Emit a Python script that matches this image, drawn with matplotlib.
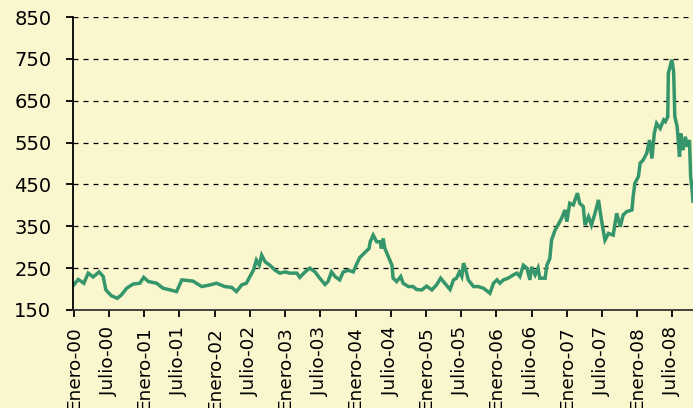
import matplotlib
matplotlib.use("Agg")
import matplotlib.pyplot as plt

# Months since January 2000
months = [0, 0.74, 1.7, 2.45, 3.3, 4.3, 5.0, 5.45, 6.4, 7.4, 8.1, 9.0, 10.1, 11.25, 11.9,
          12.7, 14.1, 15.2, 16.4, 17.5, 18.4, 20.3, 21.8, 23.2, 24.3, 25.7, 26.9, 27.7,
          28.6, 29.4, 30.0, 30.6, 31.1, 31.6, 32.0, 32.6, 33.4, 34.3, 35.1, 36.0, 36.8,
          38.0, 38.5, 39.4, 40.2, 41.1, 41.9, 42.8, 43.3, 43.9, 44.5, 45.3, 45.9, 46.8,
          47.6, 48.2, 48.7, 49.7, 50.3, 50.5, 51.0, 51.6, 52.2, 52.4, 52.7, 53.0, 53.6,
          54.2, 54.4, 55.0, 55.7, 56.1, 57.0, 57.8, 58.4, 59.3, 60.1, 61.0, 61.8, 62.5,
          63.2, 64.1, 64.7, 65.2, 65.7, 66.1, 66.4, 66.8, 67.2, 68.1, 68.9, 69.8, 70.9,
          71.5, 72.1, 72.6, 73.2, 74.0, 74.9, 75.5, 76.0, 76.6, 77.2, 77.7, 78.0, 78.6,
          79.1, 79.4, 80.3, 80.6, 81.1, 81.4, 82.0, 82.5, 83.1, 83.7, 84.0, 84.5, 85.1,
          85.8, 86.2, 86.8, 87.1, 87.7, 88.2, 88.8, 89.4, 89.9, 90.5, 91.1, 91.9, 92.5,
          93.1, 93.6, 94.2, 95.1, 95.3, 95.6, 96.2, 96.5, 97.0, 97.6, 98.1, 98.5, 98.9,
          99.3, 99.9, 100.5, 100.8, 101.2, 101.3, 101.6, 101.9, 102.2, 102.4, 102.8,
          103.2, 103.4, 103.8, 104.2, 104.5, 104.9, 105.1, 105.4, 105.5]

prices = [210, 223, 214, 238, 229, 241, 230, 198, 184, 178, 186, 202, 212, 214, 228,
          218, 214, 202, 198, 194, 222, 219, 206, 210, 214, 206, 204, 194,
          210, 214, 230, 245, 269, 257, 281, 265, 257, 245, 238, 241, 238,
          238, 228, 241, 250, 241, 226, 211, 218, 241, 230, 222, 241, 245,
          241, 260, 275, 289, 297, 313, 329, 313, 313, 297, 321, 297, 277,
          257, 226, 218, 230, 214, 206, 206, 199, 198, 207, 198, 210, 226,
          214, 199, 222, 226, 241, 230, 262, 245, 222, 206, 206, 202, 190,
          214, 222, 214, 222, 226, 234, 238, 230, 257, 250, 222, 253, 234,
          250, 226, 226, 257, 273, 317, 341, 353, 369, 389, 361, 405, 401,
          429, 405, 397, 353, 373, 353, 381, 413, 365, 317, 333, 329, 381,
          349, 377, 385, 389, 421, 453, 469, 501, 508, 524, 556, 512, 572,
          596, 584, 604, 600, 612, 716, 732, 748, 720, 612, 588,
          516, 572, 532, 564, 540, 556, 469, 429, 410]

tick_months = list(range(0, 103, 6))
tick_labels = ["Enero-00", "Julio-00", "Enero-01", "Julio-01", "Enero-02", "Julio-02",
               "Enero-03", "Julio-03", "Enero-04", "Julio-04", "Enero-05", "Julio-05",
               "Enero-06", "Julio-06", "Enero-07", "Julio-07", "Enero-08", "Julio-08"]
y_ticks = [150, 250, 350, 450, 550, 650, 750, 850]

bg = "#FAF6CE"
plt.rcParams['font.family'] = ['DejaVu Sans']

fig = plt.figure(figsize=(6.93, 4.08), dpi=100, facecolor=bg)
ax = fig.add_axes([0.1053, 0.2402, 0.8947, 0.7181])
ax.set_facecolor(bg)

ax.plot(months, prices, color="#34966A", linewidth=2.5, solid_joinstyle="miter")

ax.set_xlim(-0.15, 105.5)
ax.set_ylim(150, 850)
ax.set_yticks(y_ticks)
ax.set_xticks(tick_months)
ax.set_xticklabels(tick_labels, rotation=90, va="top", ha="center")

for v in y_ticks[1:]:
    ax.axhline(v, color="black", linewidth=0.9, linestyle=(0, (4, 4)), zorder=0.5)

for s in ["top", "right"]:
    ax.spines[s].set_visible(False)
ax.spines["left"].set_linewidth(1.3)
ax.spines["bottom"].set_linewidth(1.3)
ax.spines["bottom"].set_color("#333333")

ax.tick_params(axis="y", length=5, width=1.3, pad=10.5, labelsize=14)
ax.tick_params(axis="x", length=5, width=1.3, pad=7, labelsize=13.3)

fig.savefig("out.png", dpi=100, facecolor=bg)
